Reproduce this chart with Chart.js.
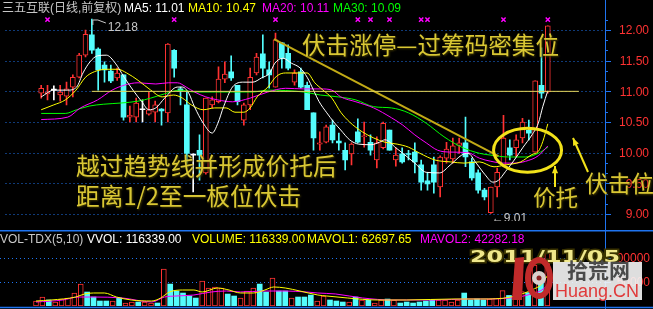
<!DOCTYPE html>
<html>
<head>
<meta charset="utf-8">
<script src="https://cdn.jsdelivr.net/npm/chart.js@4.4.0/dist/chart.umd.min.js"></script>
<style>
  html, body { margin: 0; padding: 0; background: #000; width: 653px; height: 309px; overflow: hidden; }
  #wrap { position: relative; width: 653px; height: 309px; }
  #pc { position: absolute; left: 0; top: 0; }
  #vc { position: absolute; left: 0; top: 230px; }
</style>
</head>
<body>
<div id="wrap">
  <canvas id="pc" width="653" height="230"></canvas>
  <canvas id="vc" width="653" height="79"></canvas>
</div>
<script>
// 三五互联 daily candles (forward adjusted)
const opens  = [10.97,10.96,11.02,10.94,10.92,11.07,11.23,11.59,11.92,11.69,
                11.43,11.33,11.22,11.27,10.58,10.58,10.70,10.63,10.66,10.71,
                10.65,11.67,11.04,10.78,9.96,10.04,9.67,10.78,10.83,11.20,
                11.32,11.10,10.53,10.78,11.30,11.61,11.35,11.07,11.79,11.62,
                11.15,11.32,11.10,10.65,10.14,10.17,10.45,10.19,10.04,9.98,
                10.34,10.26,10.17,9.88,10.08,10.37,9.88,9.98,9.98,10.01,
                9.80,9.54,9.80,9.44,9.91,9.90,10.12,10.16,9.85,9.67,
                9.39,9.02,9.44,9.80,10.08,10.08,10.24,10.37,10.01,11.10,
                10.99];
const highs  = [11.10,11.10,11.09,11.10,11.15,11.27,11.62,12.00,12.18,11.71,
                11.48,11.43,11.38,11.27,10.76,10.89,10.86,10.99,10.84,10.72,
                11.78,11.68,11.07,10.99,9.98,10.29,10.89,10.91,11.40,11.48,
                11.58,11.10,10.81,11.38,11.62,11.92,11.48,11.95,11.80,11.76,
                11.35,11.38,11.15,10.65,10.34,10.45,10.53,10.32,10.16,10.16,
                10.55,10.50,10.29,10.26,10.50,10.37,10.08,10.08,10.04,10.16,
                9.88,9.68,9.93,9.95,10.17,10.24,10.24,10.58,9.91,9.72,
                9.42,9.44,9.75,10.61,10.21,10.29,10.56,10.53,11.17,11.71,
                12.07];
const lows   = [10.89,10.86,10.86,10.84,10.78,10.91,11.22,11.56,11.62,11.02,
                11.15,11.14,11.18,10.53,10.50,10.50,10.50,10.61,10.50,10.45,
                10.50,11.23,10.78,9.83,9.36,9.55,9.65,10.73,10.81,11.14,
                11.18,10.78,10.45,10.70,11.27,11.22,11.05,11.07,11.38,11.35,
                11.10,11.05,10.70,10.04,10.04,10.16,10.16,10.04,9.72,9.80,
                10.16,10.09,9.96,9.75,10.06,10.04,9.78,9.83,9.88,9.67,
                9.39,9.39,9.34,9.28,9.83,9.83,9.99,9.77,9.55,9.34,
                9.23,9.01,9.28,9.77,9.88,9.93,10.16,10.21,10.01,10.89,
                10.97];
const closes = [11.05,10.99,11.02,10.99,11.04,11.23,11.59,11.93,11.67,11.35,
                11.35,11.17,11.30,10.58,10.61,10.81,10.70,10.70,10.78,10.68,
                11.77,11.38,11.01,9.99,9.96,9.96,10.89,10.86,11.20,11.28,
                11.22,10.83,10.78,11.23,11.56,11.38,11.27,11.84,11.54,11.38,
                11.30,11.07,10.70,10.24,10.16,10.42,10.21,10.16,9.88,10.14,
                10.17,10.27,10.04,10.16,10.48,10.04,9.96,9.85,9.97,9.85,
                9.52,9.49,9.52,9.93,10.06,10.11,10.16,9.93,9.59,9.39,
                9.28,9.44,9.68,10.24,9.96,10.21,10.50,10.32,11.17,10.97,
                12.07];
const volumes = [10400,18700,12500,8300,14500,16600,27000,45700,29100,18700,
                 10400,10400,10400,16600,6200,8300,8300,8300,6200,6200,
                 76800,45700,31200,27000,20800,16600,51900,37400,39500,37400,
                 24900,20800,16600,31200,37400,45700,29100,58200,31200,31200,
                 16600,18700,18700,22800,10400,20800,12500,10400,8300,8300,
                 18700,12500,12500,6200,12500,14500,12500,6200,8300,6200,
                 8300,10400,12500,12500,12500,8300,12500,27000,12500,14500,
                 12500,14500,16000,32000,22000,24800,30000,28000,85000,54100,
                 116339];

// moving averages as drawn, [day, value]
const ma5 = [[0,10.91],[2,11.02],[4.2,11.02],[5.6,11.07],[6.6,11.30],[7.7,11.48],[8.9,11.58],[10.3,11.59],
  [11.7,11.46],[13.1,11.23],[14.5,11.02],[15.9,10.83],[17,10.70],[18.1,10.73],[19.5,10.89],[21.5,11.07],
  [22.3,11.07],[23.3,10.97],[24.2,10.75],[25.6,10.48],[27,10.32],[27.9,10.48],[28.8,10.75],[30.2,11.07],
  [32,11.15],[33.4,11.15],[34.8,11.22],[36.1,11.30],[36.9,11.46],[38.2,11.54],[39.5,11.46],[40.9,11.38],
  [42,11.23],[43,11.02],[43.9,10.83],[45.1,10.65],[46.2,10.50],[47.3,10.37],[48.7,10.21],[50.1,10.14],
  [52.1,10.13],[53.4,10.17],[54.3,10.21],[56,10.08],[57.1,9.99],[59,9.83],[60.8,9.68],[62.9,9.67],
  [64.6,9.80],[66.4,9.96],[67.4,9.99],[68.7,9.83],[70.1,9.64],[71.3,9.52],[72.2,9.55],[73.3,9.69],
  [74.7,9.88],[76.1,10.09],[77.5,10.29],[78.5,10.48],[79.2,10.75],[80,11.01]];
const ma10 = [[0,10.70],[2,10.78],[3.8,10.86],[5.5,11.02],[7,11.23],[8.4,11.32],[10.3,11.36],[12.1,11.36],
  [13.5,11.30],[15.3,11.18],[17.3,11.02],[19.1,10.91],[20.9,10.94],[22.3,10.89],[23.7,10.78],[25.6,10.70],
  [27.4,10.73],[29.2,10.73],[30.6,10.66],[32,10.66],[33,10.73],[34.1,10.91],[35.8,11.07],[37.2,11.25],
  [38.6,11.30],[40.9,11.30],[42,11.30],[43.2,11.14],[44.5,11.02],[45.9,10.89],[47.3,10.66],[48.7,10.50],
  [50.7,10.34],[52.5,10.24],[54.3,10.17],[56.2,10.14],[58,10.09],[59.8,9.99],[62.2,9.88],[64.6,9.85],
  [66.8,9.83],[69.2,9.85],[71.5,9.77],[73.3,9.80],[75.7,9.85],[77.5,9.97],[78.5,10.02],[79.2,10.18],[80,10.47]];
const ma20 = [[0,10.54],[4.2,10.58],[6.2,10.73],[8.9,10.86],[11.2,11.02],[13.1,11.10],[15.3,11.14],[18.1,11.12],
  [20.1,11.14],[21.5,11.14],[22.9,11.07],[24.2,10.99],[26,10.91],[27.9,10.86],[30.2,10.83],[33,10.89],
  [35.8,10.99],[38.6,11.05],[41.4,11.04],[44.1,11.04],[45.9,11.02],[47.3,10.91],[49.7,10.83],[52.5,10.73],
  [55.3,10.57],[57.1,10.45],[59,10.29],[60.8,10.16],[62.6,10.04],[64.6,10.01],[67.4,10.00],[69.2,9.91],
  [71,9.86],[73,9.83],[74.7,9.83],[76.5,9.86],[78.5,9.95],[80,10.11]];
const ma30 = [[0,10.64],[3.8,10.64],[5.6,10.70],[7.6,10.76],[9.8,10.79],[12.6,10.81],[15.3,10.84],[17.3,10.89],
  [19.5,10.96],[21.9,11.02],[24.2,10.99],[26.5,10.99],[30.2,10.99],[33.4,10.99],[35.8,11.02],[41.4,10.99],
  [44.1,10.94],[46.9,10.91],[49.7,10.86],[52.5,10.75],[55.3,10.73],[58,10.65],[60.8,10.48],[63.6,10.26],
  [66.4,10.09],[69.2,9.99],[71,9.96],[73.8,9.93],[76.5,9.93],[78.5,9.99],[80,10.09]];
const mavol1 = [[0,10400],[2.4,12500],[6.2,18700],[7.6,25000],[9,27100],[10.7,27100],[12.6,18700],[14.9,12500],
  [18.1,10400],[19.5,16700],[20.9,29200],[22.9,33300],[24.7,33300],[26,29200],[28.4,37500],[30.2,33300],
  [32,27100],[34,27100],[35.8,33300],[37.2,39600],[39,37500],[41.3,31200],[44.1,22900],[45.5,20800],
  [48.7,16700],[53.4,12500],[58,12500],[65.4,14600],[69.6,14600],[71.9,15000],[74,18000],[76,25000],
  [78,36000],[79,44000],[80,62697]];
const mavol2 = [[0,8300],[4.2,12500],[6.6,18700],[9,18700],[13.5,16700],[18.1,8300],[20.1,18700],[21.9,20800],
  [24.7,22900],[27.4,29200],[29.8,31200],[32,29200],[35.8,31200],[39,31200],[42.3,29200],[44.1,27100],
  [46.9,25000],[51.1,16700],[55.7,12500],[62.6,12500],[67.4,14600],[71,14600],[74,16500],[76,20000],
  [78,27000],[79,32000],[80,42282]];

const trendLine = [[36.76, 11.85], [72.2, 9.945]];
const levelLine = [[7.98, 11.00], [84.9, 11.00]];
const markDays = [1, 21, 37, 50, 52, 55, 60, 61, 73, 80];
const markLevel = 12.17;

const priceTicks = [9, 9.5, 10, 10.5, 11, 11.5, 12];
const priceLabels = ['9.00', '9.50', '10.00', '10.50', '11.00', '11.50', '12.00'];
const volTicks = [50000, 100000];
const volLabels = ['50000', '100000'];

const RED = '#ff3232', CYAN = '#54fcfc', WHITE = '#ffffff', BLUE = '#1f74f0';
const NOTE = '#d9c734';
const LATIN = '"Liberation Sans", "Noto Sans CJK SC", sans-serif';
const CJK = '"Noto Sans CJK SC", sans-serif';

const days = closes.map((_, i) => i);
const isUp = i => closes[i] > opens[i];
function candleColor(i) {
  if (closes[i] > opens[i]) return RED;
  if (closes[i] < opens[i]) return CYAN;
  return WHITE;
}
const pts = arr => arr.map(p => ({x: p[0], y: p[1]}));

function lineSet(data, color, width) {
  return { type: 'line', data: pts(data), borderColor: color, borderWidth: width || 1,
           pointRadius: 0, fill: false, cubicInterpolationMode: 'monotone', order: 1 };
}

function drawNote(ctx, text, x, y, size) {
  ctx.save();
  ctx.font = size + 'px ' + CJK;
  ctx.textBaseline = 'middle';
  ctx.textAlign = 'left';
  ctx.shadowColor = 'rgba(70,60,0,0.95)';
  ctx.shadowBlur = 2;
  ctx.shadowOffsetX = 1;
  ctx.shadowOffsetY = 1;
  ctx.fillStyle = NOTE;
  ctx.fillText(text, x, y);
  ctx.restore();
}

function arrow(ctx, x1, y1, x2, y2) {
  const ang = Math.atan2(y2 - y1, x2 - x1);
  ctx.beginPath(); ctx.moveTo(x1, y1); ctx.lineTo(x2, y2); ctx.stroke();
  ctx.beginPath();
  ctx.moveTo(x2, y2);
  ctx.lineTo(x2 - 8 * Math.cos(ang - 0.4), y2 - 8 * Math.sin(ang - 0.4));
  ctx.lineTo(x2 - 8 * Math.cos(ang + 0.4), y2 - 8 * Math.sin(ang + 0.4));
  ctx.closePath(); ctx.fill();
}

const priceDeco = {
  id: 'priceDeco',
  beforeDatasetsDraw(chart) {
    const {ctx, chartArea: a, scales: {y}} = chart;
    ctx.save();
    ctx.strokeStyle = BLUE; ctx.lineWidth = 1; ctx.setLineDash([1, 3]);
    priceTicks.forEach(v => {
      const py = Math.round(y.getPixelForValue(v)) + 0.5;
      ctx.beginPath(); ctx.moveTo(a.left, py); ctx.lineTo(a.right, py); ctx.stroke();
    });
    ctx.restore();
  },
  afterDraw(chart) {
    const {ctx, chartArea: a, scales: {x, y}} = chart;
    ctx.save();
    // right axis
    ctx.strokeStyle = BLUE; ctx.lineWidth = 1;
    ctx.beginPath(); ctx.moveTo(a.right + 0.5, 0); ctx.lineTo(a.right + 0.5, chart.height); ctx.stroke();
    for (let k = Math.ceil(y.min * 6); k <= Math.floor(y.max * 6); k++) {
      const py = Math.round(y.getPixelForValue(k / 6)) + 0.5;
      const len = k % 3 === 0 ? 6 : 3;
      ctx.beginPath(); ctx.moveTo(a.right, py); ctx.lineTo(a.right + len, py); ctx.stroke();
    }
    ctx.fillStyle = RED; ctx.font = '12px ' + LATIN;
    ctx.textAlign = 'right'; ctx.textBaseline = 'middle';
    priceTicks.forEach((v, i) => ctx.fillText(priceLabels[i], 649, y.getPixelForValue(v) + 1));

    // header
    ctx.textAlign = 'left'; ctx.textBaseline = 'alphabetic';
    const head = [['三五互联(日线,前复权)', '#c8c8c8', 2], ['MA5: 11.01', '#ffffff', 124],
                  ['MA10: 10.47', '#ffff00', 188], ['MA20: 10.11', '#ff00ff', 262],
                  ['MA30: 10.09', '#00ff00', 333]];
    head.forEach(h => { ctx.fillStyle = h[1]; ctx.fillText(h[0], h[2], 12); });

    // high / low flags
    const hx = x.getPixelForValue(8), hy = y.getPixelForValue(highs[8]);
    ctx.strokeStyle = '#c8c8c8'; ctx.lineWidth = 1;
    ctx.beginPath(); ctx.moveTo(hx + 1, hy + 6); ctx.lineTo(hx + 1, hy + 1);
    ctx.lineTo(hx + 6, hy + 1); ctx.lineTo(hx + 14, hy + 4); ctx.stroke();
    ctx.fillStyle = '#c8c8c8';
    ctx.fillText('12.18', hx + 16, hy + 12);
    const lx = x.getPixelForValue(71), ly = y.getPixelForValue(lows[71]);
    ctx.save();
    ctx.beginPath(); ctx.rect(0, 0, a.right, a.bottom); ctx.clip();
    ctx.fillText('←9.01', lx + 1, ly + 8.5);
    ctx.restore();

    // notes
    drawNote(ctx, '伏击涨停—过筹码密集位', 302, 45, 23.6);
    drawNote(ctx, '越过趋势线并形成价托后', 76, 166, 23.7);
    drawNote(ctx, '距离1/2至一板位伏击', 76, 196, 23.7);
    drawNote(ctx, '价托', 533, 197.5, 22.5);
    drawNote(ctx, '伏击位', 585, 183.5, 23);

    // circle and arrows
    const cx = x.getPixelForValue(76.8), cy = y.getPixelForValue(10.04);
    ctx.strokeStyle = '#f2e21a'; ctx.fillStyle = '#f2e21a'; ctx.lineWidth = 3;
    ctx.beginPath(); ctx.ellipse(cx, cy, 34, 22, 0, 0, Math.PI * 2); ctx.stroke();
    ctx.lineWidth = 2;
    arrow(ctx, 555, 187, 555, 166);
    arrow(ctx, 588, 172, 573, 138);
    ctx.restore();
  }
};

new Chart(document.getElementById('pc'), {
  type: 'bar',
  data: {
    datasets: [
      { type: 'bar', data: days.map(i => ({x: i, y: [lows[i], highs[i]]})), grouped: false,
        barThickness: 1, borderWidth: 0, order: 10,
        backgroundColor: c => candleColor(c.dataIndex || 0) },
      { type: 'bar', data: days.map(i => ({x: i, y: [opens[i], closes[i]]})), grouped: false,
        barThickness: 5, minBarLength: 1, borderSkipped: false, order: 9,
        borderColor: RED,
        borderWidth: c => isUp(c.dataIndex || 0) ? 1 : 0,
        backgroundColor: c => isUp(c.dataIndex || 0) ? '#000000' : candleColor(c.dataIndex || 0) },
      lineSet(ma5, '#ffffff'),
      lineSet(ma10, '#ffff00'),
      lineSet(ma20, '#ff00ff'),
      lineSet(ma30, '#00ff00'),
      { type: 'line', data: pts(levelLine), borderColor: '#e6d65a', borderWidth: 1, pointRadius: 0,
        clip: {left: 0, top: 0, right: 12, bottom: 0}, order: 0 },
      { type: 'line', data: pts(trendLine), borderColor: '#c2aa16', borderWidth: 2, pointRadius: 0, order: 0 },
      { type: 'line', data: markDays.map(d => ({x: d, y: markLevel})), showLine: false,
        pointStyle: 'crossRot', pointRadius: 3, pointBorderColor: '#ff00ff', pointBorderWidth: 1.5, order: 0 }
    ]
  },
  options: {
    responsive: false, animation: false,
    layout: { padding: { left: 0, right: 48, top: 12, bottom: 9 } },
    plugins: { legend: { display: false }, tooltip: { enabled: false } },
    scales: {
      x: { type: 'linear', min: -0.3755, max: 83.77, display: false },
      y: { min: 8.886, max: 12.294, display: false }
    }
  },
  plugins: [priceDeco]
});

const volDeco = {
  id: 'volDeco',
  beforeDatasetsDraw(chart) {
    const {ctx, chartArea: a, scales: {y}} = chart;
    ctx.save();
    ctx.strokeStyle = BLUE; ctx.lineWidth = 1; ctx.setLineDash([1, 3]);
    volTicks.forEach(v => {
      const py = Math.round(y.getPixelForValue(v)) + 0.5;
      ctx.beginPath(); ctx.moveTo(a.left, py); ctx.lineTo(a.right, py); ctx.stroke();
    });
    ctx.restore();
  },
  afterDraw(chart) {
    const {ctx, chartArea: a, scales: {y}} = chart;
    ctx.save();
    ctx.strokeStyle = BLUE; ctx.lineWidth = 1.5;
    ctx.beginPath(); ctx.moveTo(0, 0.75); ctx.lineTo(chart.width, 0.75); ctx.stroke();
    ctx.beginPath(); ctx.moveTo(0, 77.5); ctx.lineTo(chart.width, 77.5); ctx.stroke();
    ctx.lineWidth = 1;
    ctx.beginPath(); ctx.moveTo(a.right + 0.5, 0); ctx.lineTo(a.right + 0.5, chart.height); ctx.stroke();
    volTicks.forEach(v => {
      const py = Math.round(y.getPixelForValue(v)) + 0.5;
      ctx.beginPath(); ctx.moveTo(a.right, py); ctx.lineTo(a.right + 6, py); ctx.stroke();
    });
    ctx.fillStyle = RED; ctx.font = '12px ' + LATIN;
    ctx.textAlign = 'right'; ctx.textBaseline = 'middle';
    volTicks.forEach((v, i) => ctx.fillText(volLabels[i], 650, y.getPixelForValue(v) + 1));

    ctx.textAlign = 'left'; ctx.textBaseline = 'alphabetic';
    const head = [['VOL-TDX(5,10)', '#c8c8c8', 0], ['VVOL: 116339.00', '#ffffff', 87],
                  ['VOLUME: 116339.00', '#ffff00', 192], ['MAVOL1: 62697.65', '#ffff00', 307],
                  ['MAVOL2: 42282.18', '#ff00ff', 420]];
    head.forEach(h => { ctx.fillStyle = h[1]; ctx.fillText(h[0], h[2], 13); });

    // date stamp
    ctx.save();
    ctx.font = 'bold 16px "DejaVu Sans", sans-serif';
    const dw = ctx.measureText('2011/11/05').width;
    ctx.translate(470, 32); ctx.scale(150 / dw, 1);
    ctx.lineWidth = 3; ctx.strokeStyle = '#3a3300'; ctx.strokeText('2011/11/05', 0, 0);
    ctx.fillStyle = '#efe78a'; ctx.fillText('2011/11/05', 0, 0);
    ctx.restore();

    // watermark logo
    ctx.fillStyle = '#c02a2a';
    ctx.beginPath(); ctx.moveTo(515, 28); ctx.lineTo(524, 27); ctx.lineTo(522, 70); ctx.lineTo(512, 70); ctx.closePath(); ctx.fill();
    ctx.strokeStyle = '#c02a2a'; ctx.lineWidth = 6;
    ctx.beginPath(); ctx.ellipse(539, 48, 11, 18, 0, 0, Math.PI * 2); ctx.stroke();
    ctx.fillStyle = '#d8d0cc';
    ctx.beginPath(); ctx.arc(539, 48, 7, 0, Math.PI * 2); ctx.fill();
    ctx.fillStyle = '#8a2020';
    ctx.beginPath(); ctx.arc(539, 48, 2.5, 0, Math.PI * 2); ctx.fill();
    ctx.fillStyle = 'rgba(246,246,246,0.9)';
    ctx.fillRect(553, 32, 89, 38);
    ctx.fillStyle = '#4a4a4a'; ctx.font = 'bold 21px ' + CJK;
    ctx.fillText('拾荒网', 567, 48);
    ctx.fillStyle = '#e03a3a'; ctx.font = '18px ' + LATIN;
    ctx.fillText('Huang.CN', 555, 67);
    ctx.restore();
  }
};

new Chart(document.getElementById('vc'), {
  type: 'bar',
  data: {
    datasets: [
      { type: 'bar', data: days.map(i => ({x: i, y: volumes[i]})), barThickness: 5,
        borderSkipped: false, borderColor: RED, order: 5,
        borderWidth: c => isUp(c.dataIndex || 0) ? 1 : 0,
        backgroundColor: c => isUp(c.dataIndex || 0) ? '#000000' : CYAN },
      lineSet(mavol1, '#ffff00'),
      lineSet(mavol2, '#ff00ff')
    ]
  },
  options: {
    responsive: false, animation: false,
    layout: { padding: { left: 0, right: 48, top: 14, bottom: 3 } },
    plugins: { legend: { display: false }, tooltip: { enabled: false } },
    scales: {
      x: { type: 'linear', min: -0.3755, max: 83.77, display: false },
      y: { min: 0, max: 129146, display: false }
    }
  },
  plugins: [volDeco]
});
</script>
</body>
</html>
